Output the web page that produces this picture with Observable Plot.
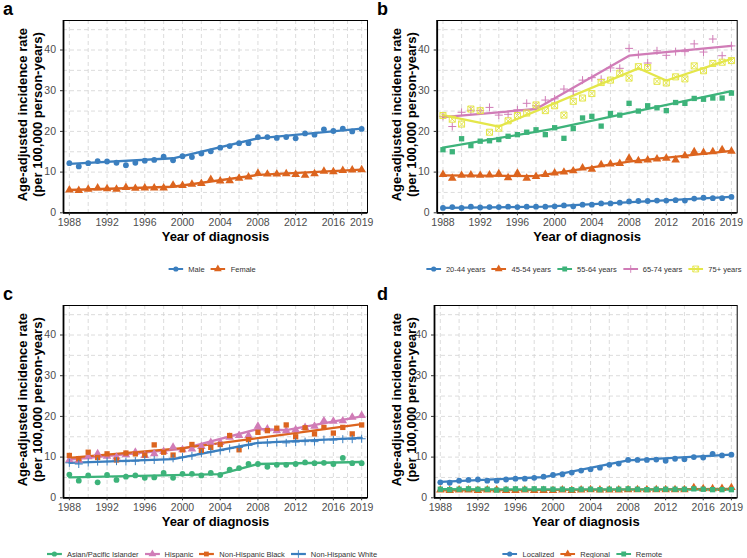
<!DOCTYPE html>
<html><head><meta charset="utf-8">
<script src="https://cdn.jsdelivr.net/npm/d3@7"></script>
<script src="https://cdn.jsdelivr.net/npm/@observablehq/plot@0.6"></script>
<style>
body{margin:0;background:#fff;font-family:"Liberation Sans",Arial,Helvetica,sans-serif;}
#root{position:relative;width:747px;height:558px;overflow:hidden;background:#fff;}
.panel{position:absolute;width:373px;height:285px;}
.panel svg.plot{position:absolute;left:0;top:0;}
.letter{position:absolute;left:3px;top:0px;font-size:18px;line-height:18px;font-weight:bold;color:#000;}
.legend{position:absolute;display:flex;align-items:center;white-space:nowrap;font-size:7.5px;color:#333;transform:translateX(-50%);height:10px;}
.legend .item{display:flex;align-items:center;margin-right:6px;}
.legend .item svg{margin-right:5px;}
</style></head><body><div id="root"></div>
<script>
// ---------------- data ----------------
const years = [1988,1989,1990,1991,1992,1993,1994,1995,1996,1997,1998,1999,2000,2001,2002,2003,2004,2005,2006,2007,2008,2009,2010,2011,2012,2013,2014,2015,2016,2017,2018,2019];
const xTicks = [1988,1992,1996,2000,2004,2008,2012,2016,2019];
const xGrid = [1988,1990,1992,1994,1996,1998,2000,2002,2004,2006,2008,2010,2012,2014,2016,2017.5,2019];
const yTicks = [0,10,20,30,40];
const yGrid = [5,10,15,20,25,30,35,40,45];
const yMax = 47.25;
const xPad = 0.62;
const yTitle = "Age-adjusted incidence rate\n(per 100,000 person-years)";
const xTitle = "Year of diagnosis";

// panel a: sex
const sexNames = ["Male","Female"];
const maleObs = [12.2,11.4,12.2,12.7,12.6,12.3,11.7,12.3,12.8,13.0,13.8,12.9,13.9,13.7,14.6,15.1,16.0,16.4,17.1,17.1,18.6,18.6,18.4,18.6,18.3,19.5,19.2,20.5,20.1,20.7,20.0,20.6];
const femaleObs = [5.6,5.5,5.8,6.1,5.9,5.8,6.2,6.0,6.1,6.1,6.1,6.8,6.7,7.0,7.2,8.2,7.8,7.9,8.5,8.8,9.7,9.5,9.5,9.6,9.4,9.2,9.6,10.2,10.1,10.4,10.5,10.6];
const maleFitYears = [1988,1999,2008,2019];
const maleFitVals = [12.0,13.4,18.3,20.7];
const femaleFitYears = [1988,1999,2008,2019];
const femaleFitVals = [5.6,6.4,9.3,10.6];

// panel b: age
const ageNames = ["20-44 years","45-54 years","55-64 years","65-74 years","75+ years"];
const age2044Obs = [1.2,1.4,1.2,1.5,1.3,1.4,1.4,1.5,1.4,1.5,1.5,1.5,1.6,1.8,1.6,2.0,2.0,2.3,2.3,2.5,2.8,2.9,2.9,3.0,3.0,3.1,3.0,3.5,3.7,3.6,3.6,3.9];
const age4554Obs = [9.4,8.5,9.2,9.3,9.2,9.3,9.6,8.6,9.7,8.5,8.9,9.4,9.8,10.0,10.3,11.0,10.7,11.8,12.0,12.1,13.4,12.8,13.0,13.2,13.4,13.0,14.0,15.0,14.8,15.0,15.5,15.1];
const age5564Obs = [15.5,15.0,18.2,16.5,17.6,17.7,18.0,18.8,19.2,19.8,20.4,19.2,20.9,18.3,20.7,23.3,23.7,21.3,24.4,24.0,26.9,25.0,26.3,25.8,25.1,27.1,26.9,28.1,27.9,28.2,28.2,29.4];
const age6574Obs = [23.7,21.2,24.7,25.2,25.1,25.9,24.0,24.2,25.3,26.9,26.3,27.7,28.0,30.4,29.9,32.6,33.2,32.8,35.6,35.5,40.4,38.9,36.8,39.8,38.7,39.6,39.6,41.5,39.5,42.7,38.6,41.0];
const age75Obs = [23.9,23.0,21.8,25.5,25.1,19.8,20.8,22.6,23.9,24.5,26.5,25.1,26.3,24.0,27.4,28.2,29.3,32.0,32.6,34.3,33.1,35.9,35.7,32.3,31.9,33.4,32.9,36.1,34.9,36.7,37.0,37.4];
const age2044FitYears = [1988,1999,2019];
const age2044FitVals = [1.2,1.5,3.9];
const age4554FitYears = [1988,1998,2008,2019];
const age4554FitVals = [9.2,9.0,12.6,15.2];
const age5564FitYears = [1988,2000,2019];
const age5564FitVals = [16.0,20.7,29.9];
const age6574FitYears = [1988,1998,2008,2019];
const age6574FitVals = [23.5,25.5,38.6,41.0];
const age75FitYears = [1988,1994,2009,2012,2019];
const age75FitVals = [24.0,21.2,35.5,32.5,37.8];

// panel c: race/ethnicity
const raceNames = ["Asian/Pacific Islander","Hispanic","Non-Hispanic Black","Non-Hispanic White"];
const apiObs = [5.7,4.2,5.5,3.8,5.6,4.4,5.2,5.5,4.9,5.0,6.1,4.9,5.9,5.9,5.5,6.1,5.6,6.9,7.3,8.3,8.3,7.6,8.1,8.1,8.3,8.7,8.5,8.6,8.3,9.8,8.5,8.5];
const hispObs = [9.3,9.2,10.1,10.8,10.2,10.0,10.6,11.2,10.4,10.8,11.4,12.4,11.8,12.0,12.6,13.6,13.6,14.9,15.3,15.3,17.6,16.9,16.5,16.5,16.7,17.3,17.6,18.9,18.8,18.9,19.8,20.2];
const nhbObs = [10.4,9.6,11.2,9.9,10.8,9.3,11.0,10.8,10.5,13.0,11.2,10.5,11.8,13.1,11.6,12.4,13.1,15.3,11.8,14.3,16.1,16.5,17.1,17.9,15.0,17.2,15.7,17.3,15.9,17.3,15.7,17.9];
const nhwObs = [8.6,8.3,8.7,8.9,8.9,9.0,8.9,9.0,9.3,9.3,9.4,9.7,10.0,10.3,10.9,11.3,11.6,12.1,12.4,12.9,13.4,13.5,13.6,13.5,13.7,13.8,13.8,14.3,14.2,14.4,14.4,14.5];
const apiFitYears = [1988,2004,2008,2019];
const apiFitVals = [5.0,5.8,8.3,8.8];
const hispFitYears = [1988,2000,2008,2011,2019];
const hispFitVals = [9.4,12.0,16.9,16.6,20.0];
const nhbFitYears = [1988,2000,2019];
const nhbFitVals = [9.8,12.2,18.1];
const nhwFitYears = [1988,1999,2008,2019];
const nhwFitVals = [8.6,9.5,13.5,14.7];

// panel d: stage
const stageNames = ["Localized","Regional","Remote"];
const locObs = [3.8,3.7,4.2,4.4,4.5,4.2,4.2,4.5,4.7,4.7,4.9,5.2,5.6,5.8,6.2,6.7,7.0,7.4,8.1,8.4,9.3,9.3,9.3,9.4,9.1,9.6,9.5,10.0,9.9,10.8,10.4,10.6];
const regObs = [1.9,1.8,1.9,1.9,1.8,1.9,1.9,1.8,1.8,1.9,1.8,1.8,1.8,1.9,1.8,1.9,2.0,1.9,1.9,1.9,2.0,2.0,2.0,2.0,2.0,2.0,2.0,2.5,2.2,2.2,2.3,2.5];
const remObs = [2.1,2.0,2.1,2.2,2.1,2.1,1.9,2.1,2.2,2.1,2.2,2.2,2.1,2.1,2.0,2.1,2.1,2.0,2.1,2.1,2.2,2.1,2.0,2.1,2.1,2.1,2.1,2.2,2.1,2.0,2.0,2.0];
const locFitYears = [1988,1999,2008,2019];
const locFitVals = [3.9,5.1,9.2,10.6];
const regFitYears = [1988,2019];
const regFitVals = [1.8,2.2];
const remFitYears = [1988,2019];
const remFitVals = [2.1,2.0];

// ---------------- styles ----------------
const BLUE = "#3B7FBF", ORANGE = "#DC641E", GREEN = "#3DB37A", PINK = "#D07CB7", YELLOW = "#E4E64A";
const GRID = "#d3d3d3";

function ser(name, color, symbol, obs, fy, fv) { return {name, color, symbol, obs, fy, fv}; }

const panels = [
  {letter:"a", left:0, top:0, fl:63, fr:367, series:[
    ser(sexNames[0], BLUE, "circle", maleObs, maleFitYears, maleFitVals),
    ser(sexNames[1], ORANGE, "triangle", femaleObs, femaleFitYears, femaleFitVals)]},
  {letter:"b", left:374, top:0, fl:62.7, fr:362.7, series:[
    ser(ageNames[0], BLUE, "circle", age2044Obs, age2044FitYears, age2044FitVals),
    ser(ageNames[1], ORANGE, "triangle", age4554Obs, age4554FitYears, age4554FitVals),
    ser(ageNames[2], GREEN, "square", age5564Obs, age5564FitYears, age5564FitVals),
    ser(ageNames[3], PINK, "plus", age6574Obs, age6574FitYears, age6574FitVals),
    ser(ageNames[4], YELLOW, "squarecross", age75Obs, age75FitYears, age75FitVals)]},
  {letter:"c", left:0, top:285, fl:63, fr:367, series:[
    ser(raceNames[0], GREEN, "circle", apiObs, apiFitYears, apiFitVals),
    ser(raceNames[1], PINK, "triangle", hispObs, hispFitYears, hispFitVals),
    ser(raceNames[2], ORANGE, "square", nhbObs, nhbFitYears, nhbFitVals),
    ser(raceNames[3], BLUE, "plus", nhwObs, nhwFitYears, nhwFitVals)]},
  {letter:"d", left:374, top:285, fl:60, fr:362.7, series:[
    ser(stageNames[0], BLUE, "circle", locObs, locFitYears, locFitVals),
    ser(stageNames[1], ORANGE, "triangle", regObs, regFitYears, regFitVals),
    ser(stageNames[2], GREEN, "square", remObs, remFitYears, remFitVals)]}
];

function dotMarks(data, s) {
  const base = {x:"year", y:"value"};
  switch (s.symbol) {
    case "circle": return [Plot.dot(data, {...base, symbol:"circle", fill:s.color, stroke:"none", r:2.9})];
    case "triangle": return [Plot.dot(data, {...base, symbol:"triangle", fill:s.color, stroke:"none", r:3.2})];
    case "square": return [Plot.dot(data, {...base, symbol:"square", fill:s.color, stroke:"none", r:3.0})];
    case "plus": return [Plot.dot(data, {...base, symbol:"plus", fill:"none", stroke:s.color, strokeWidth:1, r:2.7})];
    case "squarecross": return [
      Plot.dot(data, {...base, symbol:"square", fill:"none", stroke:s.color, strokeWidth:1, r:3.4}),
      Plot.dot(data, {...base, symbol:"times", fill:"none", stroke:s.color, strokeWidth:1, r:2.9})];
  }
}

const W = 373, H = 250, FT = 20, FB = 212.3;
const root = document.getElementById("root");

for (const p of panels) {
  const div = document.createElement("div");
  div.className = "panel";
  div.style.left = p.left + "px";
  div.style.top = p.top + "px";
  root.appendChild(div);

  const lineMarks = [], pointMarks = [];
  for (const s of p.series) {
    const obs = s.obs.map((v, i) => ({year: years[i], value: v}));
    const fit = s.fy.map((yr, i) => ({year: yr, value: s.fv[i]}));
    lineMarks.push(Plot.line(fit, {x:"year", y:"value", stroke:s.color, strokeWidth:2.3}));
    pointMarks.push(...dotMarks(obs, s));
  }

  const xDom = [years[0] - xPad, years[years.length-1] + xPad];
  const svg = Plot.plot({
    width: W, height: H,
    marginLeft: p.fl, marginRight: W - p.fr, marginTop: FT, marginBottom: H - FB,
    style: {fontFamily: "'Liberation Sans', Arial, Helvetica, sans-serif", background: "transparent", overflow: "visible"},
    x: {domain: xDom},
    y: {domain: [0, yMax]},
    marks: [
      Plot.gridX({ticks: xGrid, stroke: GRID, strokeOpacity: 1, strokeDasharray: "4,3", strokeWidth: 0.8}),
      Plot.gridY({ticks: yGrid, stroke: GRID, strokeOpacity: 1, strokeDasharray: "4,3", strokeWidth: 0.8}),
      ...lineMarks,
      ...pointMarks,
      Plot.frame({stroke: "#000", strokeWidth: 1}),
      Plot.ruleY([0], {stroke: "#000", strokeWidth: 1.8}),
      Plot.ruleX([xDom[0]], {stroke: "#000", strokeWidth: 1.8}),
      Plot.axisX({ticks: xTicks, tickFormat: d => String(d), tickSize: 3, tickPadding: 3, fontSize: 10.5, stroke: "#333", fill: "#4d4d4d", label: null}),
      Plot.axisY({ticks: yTicks, tickFormat: d => String(d), tickSize: 3, tickPadding: 4.5, fontSize: 10.5, stroke: "#333", fill: "#4d4d4d", label: null}),
      Plot.text([xTitle], {frameAnchor: "bottom", dy: 28, fontSize: 13, fontWeight: "bold", fill: "#000"}),
      Plot.text([yTitle], {frameAnchor: "left", textAnchor: "middle", rotate: -90, dx: 29.5 - p.fl, dy: -2, fontSize: 13, fontWeight: "bold", fill: "#000", lineHeight: 1.12})
    ]
  });
  svg.classList.add("plot");
  div.appendChild(svg);

  const letter = document.createElement("div");
  letter.className = "letter";
  letter.textContent = p.letter;
  div.appendChild(letter);

  const leg = document.createElement("div");
  leg.className = "legend";
  leg.style.left = ((p.fl + p.fr) / 2) + "px";
  leg.style.top = "264px";
  for (const s of p.series) {
    const item = document.createElement("div");
    item.className = "item";
    const ks = d3.create("svg").attr("width", 15).attr("height", 10);
    ks.append("line").attr("x1", 0).attr("x2", 15).attr("y1", 5).attr("y2", 5).attr("stroke", s.color).attr("stroke-width", 2.2);
    const g = ks.append("g").attr("transform", "translate(7.5,5)");
    const A = r => Math.PI * r * r;
    if (s.symbol === "circle") g.append("path").attr("d", d3.symbol(d3.symbolCircle, A(2.6))()).attr("fill", s.color);
    else if (s.symbol === "triangle") g.append("path").attr("d", d3.symbol(d3.symbolTriangle, A(2.9))()).attr("fill", s.color);
    else if (s.symbol === "square") g.append("path").attr("d", d3.symbol(d3.symbolSquare, A(2.7))()).attr("fill", s.color);
    else if (s.symbol === "plus") g.append("path").attr("d", d3.symbol(d3.symbolPlus, A(2.6))()).attr("fill", "none").attr("stroke", s.color).attr("stroke-width", 0.9);
    else {
      g.append("path").attr("d", d3.symbol(d3.symbolSquare, A(3.3))()).attr("fill", "none").attr("stroke", s.color).attr("stroke-width", 0.9);
      g.append("path").attr("d", d3.symbol(d3.symbolTimes, A(2.8))()).attr("fill", "none").attr("stroke", s.color).attr("stroke-width", 0.9);
    }
    item.appendChild(ks.node());
    const t = document.createElement("span");
    t.textContent = s.name;
    item.appendChild(t);
    leg.appendChild(item);
  }
  div.appendChild(leg);
}
</script></body></html>
